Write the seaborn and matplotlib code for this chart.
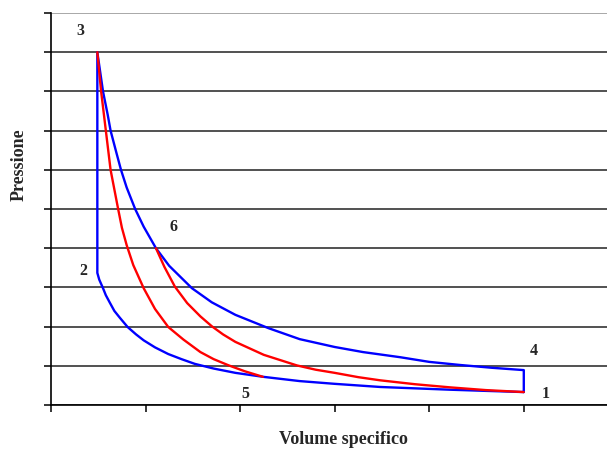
import numpy as np
import pandas as pd
import matplotlib
matplotlib.use("Agg")
import matplotlib.pyplot as plt
import seaborn as sns

# ---- data (specific volume, pressure) ----
# Blue cycle: isotherm 1->2 (lower), isochore 2->3, isotherm 3->4 (upper), isochore 4->1
v_blue_lower = [5.00, 4.60, 4.22, 3.90, 3.48, 3.00, 2.63, 2.24, 1.95, 1.72, 1.52, 1.38,
                1.24, 1.10, 0.98, 0.90, 0.81, 0.73, 0.67, 0.62, 0.58, 0.55, 0.51, 0.49]
p_blue_lower = [0.33, 0.36, 0.39, 0.42, 0.46, 0.54, 0.61, 0.72, 0.82, 0.93, 1.05, 1.17,
                1.30, 1.47, 1.65, 1.80, 1.99, 2.22, 2.40, 2.62, 2.80, 2.98, 3.20, 3.37]
v_blue_upper = [0.49, 0.52, 0.55, 0.60, 0.63, 0.69, 0.74, 0.80, 0.89, 0.98, 1.11, 1.25,
                1.49, 1.70, 1.95, 2.30, 2.63, 3.00, 3.30, 3.69, 4.00, 4.33, 4.66, 5.00]
p_blue_upper = [9.00, 8.50, 8.00, 7.40, 7.00, 6.45, 6.00, 5.55, 5.00, 4.55, 4.00, 3.55,
                2.98, 2.62, 2.30, 1.96, 1.68, 1.48, 1.35, 1.22, 1.10, 1.02, 0.95, 0.89]

# Red curves: 3 -> 5 and 6 -> 1
v_red_inner = [0.49, 0.51, 0.53, 0.555, 0.58, 0.605, 0.63, 0.67, 0.71, 0.75, 0.80, 0.87,
               0.98, 1.10, 1.24, 1.40, 1.58, 1.72, 1.88, 2.05, 2.24]
p_red_inner = [9.00, 8.50, 8.00, 7.50, 7.00, 6.50, 6.00, 5.50, 5.00, 4.52, 4.08, 3.57,
               2.98, 2.45, 1.99, 1.67, 1.35, 1.17, 1.01, 0.86, 0.72]
v_red_outer = [1.11, 1.20, 1.31, 1.44, 1.58, 1.70, 1.82, 1.95, 2.25, 2.60, 2.80, 3.00,
               3.25, 3.48, 3.85, 4.22, 4.60, 5.00]
p_red_outer = [4.00, 3.52, 3.02, 2.60, 2.26, 2.01, 1.80, 1.61, 1.28, 1.01, 0.90, 0.82,
               0.71, 0.63, 0.53, 0.45, 0.38, 0.33]

point_labels = ["3", "2", "6", "5", "4", "1"]
label_v = [0.31, 0.34, 1.30, 2.06, 5.11, 5.23]
label_p = [9.55, 3.41, 4.54, 0.28, 1.38, 0.29]

x_ticks = [0, 1, 2, 3, 4, 5]
y_ticks = list(range(11))

# ---- build tables ----
blue_v = v_blue_lower + v_blue_upper + [v_blue_lower[0]]
blue_p = p_blue_lower + p_blue_upper + [p_blue_lower[0]]
df_blue = pd.DataFrame({"v": blue_v, "p": blue_p})
df_red = pd.concat([
    pd.DataFrame({"v": v_red_inner, "p": p_red_inner, "seg": "a"}),
    pd.DataFrame({"v": v_red_outer, "p": p_red_outer, "seg": "b"}),
], ignore_index=True)

sns.set_style("ticks")
plt.rcParams['font.family'] = ['Liberation Serif', 'DejaVu Serif']

fig = plt.figure(figsize=(6.07, 4.5), dpi=100)
ax = fig.add_axes([51/607, 45/450, 556/607, 392/450])

sns.lineplot(data=df_blue, x="v", y="p", sort=False, estimator=None,
             color="#0000FF", lw=1.7, ax=ax)
sns.lineplot(data=df_red, x="v", y="p", units="seg", sort=False, estimator=None,
             color="#FF0000", lw=1.7, ax=ax)

ax.set_xlim(0, 5.88)
ax.set_ylim(0, 10)
ax.set_xticks(x_ticks)
ax.set_yticks(y_ticks)
ax.tick_params(labelbottom=False, labelleft=False, direction="out",
               length=5, width=1.1, color="black")
ax.yaxis.grid(True, color="#333333", lw=1.2)
ax.xaxis.grid(False)
ax.get_ygridlines()[-1].set_color("#999999")
ax.set_axisbelow(True)
for s in ["top", "right"]:
    ax.spines[s].set_visible(False)
for s in ["left", "bottom"]:
    ax.spines[s].set_color("black")
    ax.spines[s].set_linewidth(1.2)
ax.set_xlabel("")
ax.set_ylabel("")

for t, x, y in zip(point_labels, label_v, label_p):
    ax.text(x, y, t, ha="center", va="center", fontsize=11.5, fontweight="bold")

fig.text(343/607, 1 - 439/450, "Volume specifico", ha="center", va="center",
         fontsize=13, fontweight="bold")
fig.text(19/607, 1 - 165/450, "Pressione", ha="center", va="center",
         rotation=90, fontsize=13, fontweight="bold")

fig.savefig("out.png", dpi=100)
